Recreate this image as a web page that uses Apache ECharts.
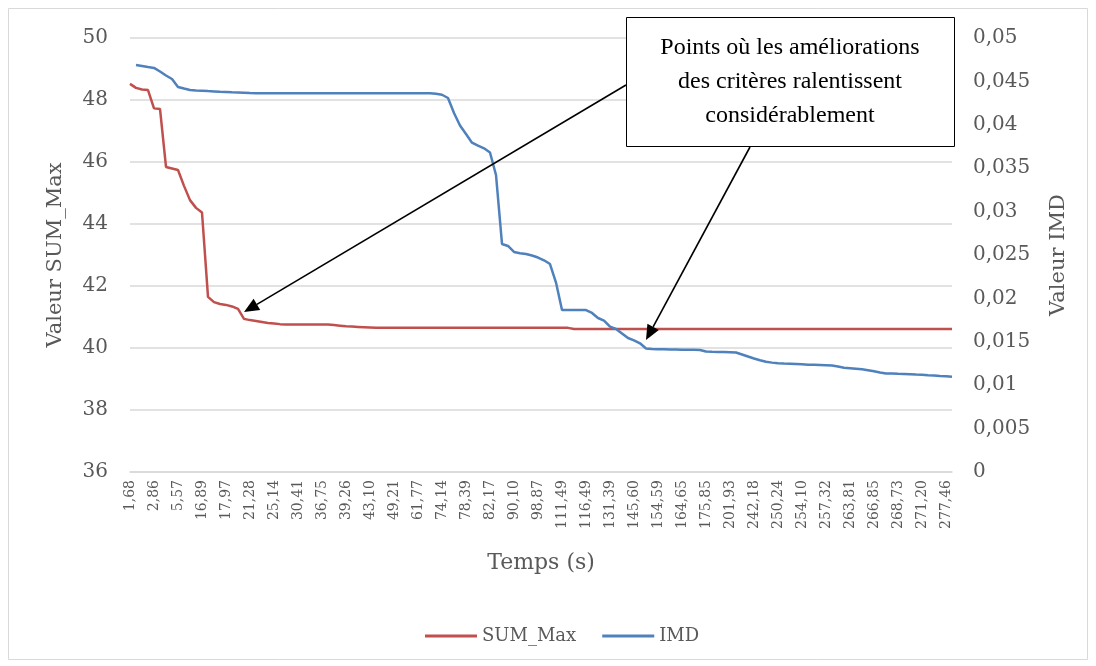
<!DOCTYPE html>
<html>
<head>
<meta charset="utf-8">
<script src="https://cdn.jsdelivr.net/npm/echarts@6/dist/echarts.min.js"></script>
<style>
html,body{margin:0;padding:0;background:#fff;}
#chart{width:1096px;height:666px;}
</style>
</head>
<body>
<div id="chart"></div>
<script>
// Tick labels shown on the time axis (every 4th sample)
var tickLabels = ['1,68','2,86','5,57','16,89','17,97','21,28','25,14','30,41','36,75','39,26','43,10','49,21','61,77','74,14','78,39','82,17','90,10','98,87','111,49','116,49','131,39','145,60','154,59','164,65','175,85','201,93','242,18','250,24','254,10','257,32','263,81','266,85','268,73','271,20','277,46'];

// SUM_Max (left axis)
var sumMax = [
48.52,48.39,48.34,48.32,47.73,47.71,45.84,45.79,45.74,45.23,
44.77,44.52,44.37,41.65,41.48,41.42,41.39,41.34,41.26,40.94,
40.90,40.87,40.84,40.81,40.79,40.77,40.76,40.76,40.76,40.76,
40.76,40.76,40.76,40.76,40.74,40.72,40.70,40.69,40.68,40.67,
40.66,40.65,40.65,40.65,40.65,40.65,40.65,40.65,40.65,40.65,
40.65,40.65,40.65,40.65,40.65,40.65,40.65,40.65,40.65,40.65,
40.65,40.65,40.65,40.65,40.65,40.65,40.65,40.65,40.65,40.65,
40.65,40.65,40.65,40.65,40.61,40.61,40.61,40.61,40.61,40.61,
40.61,40.61,40.61,40.61,40.61,40.61,40.61,40.61,40.61,40.61,
40.61,40.61,40.61,40.61,40.61,40.61,40.61,40.61,40.61,40.61,
40.61,40.61,40.61,40.61,40.61,40.61,40.61,40.61,40.61,40.61,
40.61,40.61,40.61,40.61,40.61,40.61,40.61,40.61,40.61,40.61,
40.61,40.61,40.61,40.61,40.61,40.61,40.61,40.61,40.61,40.61,
40.61,40.61,40.61,40.61,40.61,40.61,40.61,40.61
];

// IMD (right axis)
var imd = [
null,0.04689,0.04678,0.04666,0.04655,0.04614,0.04568,0.04528,0.04436,0.04418,
0.04401,0.04395,0.04392,0.04388,0.04385,0.04381,0.04378,0.04374,0.04371,0.04368,
0.04365,0.04363,0.04363,0.04363,0.04363,0.04363,0.04363,0.04363,0.04363,0.04363,
0.04363,0.04363,0.04363,0.04363,0.04363,0.04363,0.04363,0.04363,0.04363,0.04363,
0.04363,0.04363,0.04363,0.04363,0.04363,0.04363,0.04363,0.04363,0.04363,0.04363,
0.04363,0.04357,0.04346,0.04309,0.04136,0.03992,0.03894,0.03794,0.03759,0.03729,
0.03681,0.03422,0.02627,0.02604,0.02535,0.02520,0.02512,0.02494,0.02471,0.02439,
0.02396,0.02183,0.01866,0.01866,0.01866,0.01866,0.01866,0.01832,0.01774,0.01745,
0.01674,0.01648,0.01596,0.01544,0.01517,0.01483,0.01423,0.01417,0.01415,0.01414,
0.01411,0.01410,0.01409,0.01408,0.01407,0.01406,0.01388,0.01385,0.01383,0.01383,
0.01380,0.01377,0.01354,0.01331,0.01308,0.01287,0.01270,0.01260,0.01252,0.01249,
0.01247,0.01244,0.01241,0.01237,0.01235,0.01233,0.01230,0.01227,0.01215,0.01202,
0.01196,0.01190,0.01184,0.01173,0.01160,0.01146,0.01136,0.01134,0.01131,0.01129,
0.01126,0.01122,0.01119,0.01115,0.01112,0.01106,0.01103,0.01098
];

var LABEL_STEP = 4;
var categories = sumMax.map(function (v, i) {
  return (i % LABEL_STEP === 0 && tickLabels[i / LABEL_STEP]) ? tickLabels[i / LABEL_STEP] : '';
});

var txt = '#595959';
var grid = '#D9D9D9';
var axisFont = 'DejaVu Serif';

function arrowHead(x1, y1, x2, y2, len, half) {
  var dx = x2 - x1, dy = y2 - y1, d = Math.sqrt(dx * dx + dy * dy);
  var ux = dx / d, uy = dy / d;
  var bx = x2 - ux * len, by = y2 - uy * len;
  return [[x2, y2], [bx - uy * half, by + ux * half], [bx + uy * half, by - ux * half]];
}
var arrows = [[626, 85, 244, 312], [750, 147, 646, 340]];
var graphics = [
  { type: 'rect', shape: { x: 8.5, y: 8.5, width: 1079, height: 651 }, style: { fill: 'none', stroke: grid, lineWidth: 1 }, z: 0, silent: true }
];
arrows.forEach(function (a) {
  var h = arrowHead(a[0], a[1], a[2], a[3], 15, 6.5);
  var bx = (h[1][0] + h[2][0]) / 2, by = (h[1][1] + h[2][1]) / 2;
  graphics.push({ type: 'line', shape: { x1: a[0], y1: a[1], x2: bx, y2: by }, style: { stroke: '#000', lineWidth: 1.6 }, z: 100 });
  graphics.push({ type: 'polygon', shape: { points: h }, style: { fill: '#000' }, z: 100 });
});
graphics.push({ type: 'rect', shape: { x: 626.5, y: 17.5, width: 328, height: 129 }, style: { fill: '#fff', stroke: '#000', lineWidth: 1 }, z: 101 });
graphics.push({ type: 'text', x: 790, y: 82, z: 102,
  style: { text: 'Points où les améliorations\ndes critères ralentissent\nconsidérablement', fill: '#000',
    font: '24px "Liberation Serif"', align: 'center', verticalAlign: 'middle', lineHeight: 34 } });

var chart = echarts.init(document.getElementById('chart'));
chart.setOption({
  animation: false,
  backgroundColor: '#fff',
  grid: { left: 130, right: 144, top: 38, bottom: 194, containLabel: false },
  legend: {
    left: 420, top: 622,
    icon: 'rect',
    itemWidth: 52, itemHeight: 3, itemGap: 26,
    textStyle: { fontFamily: axisFont, fontSize: 18, color: txt },
    data: ['SUM_Max', 'IMD']
  },
  xAxis: {
    type: 'category', data: categories, boundaryGap: false,
    name: 'Temps (s)', nameLocation: 'middle', nameGap: 80,
    nameTextStyle: { fontFamily: axisFont, fontSize: 22, color: txt },
    axisLine: { lineStyle: { color: grid, width: 1.5 } },
    axisTick: { show: false },
    axisLabel: { interval: LABEL_STEP - 1, rotate: 90, margin: 8, fontFamily: axisFont, fontSize: 14, color: txt },
    splitLine: { show: false }
  },
  yAxis: [
    {
      type: 'value', min: 36, max: 50, interval: 2,
      name: 'Valeur SUM_Max', nameLocation: 'middle', nameGap: 64, nameRotate: 90,
      nameTextStyle: { fontFamily: axisFont, fontSize: 21, color: txt },
      axisLine: { show: false }, axisTick: { show: false },
      axisLabel: { margin: 22, fontFamily: axisFont, fontSize: 20, color: txt },
      splitLine: { lineStyle: { color: grid, width: 1.5 } }
    },
    {
      type: 'value', min: 0, max: 0.05, interval: 0.005,
      name: 'Valeur IMD', nameLocation: 'middle', nameGap: 96, nameRotate: 90,
      nameTextStyle: { fontFamily: axisFont, fontSize: 21, color: txt },
      axisLine: { show: false }, axisTick: { show: false },
      axisLabel: { margin: 21, fontFamily: axisFont, fontSize: 20, color: txt,
        formatter: function (v) { return String(+v.toFixed(4)).replace('.', ','); } },
      splitLine: { show: false }
    }
  ],
  series: [
    { name: 'SUM_Max', type: 'line', yAxisIndex: 0, data: sumMax, symbol: 'none',
      lineStyle: { color: '#C0504D', width: 2.5 }, itemStyle: { color: '#C0504D' } },
    { name: 'IMD', type: 'line', yAxisIndex: 1, data: imd, symbol: 'none',
      lineStyle: { color: '#4F81BD', width: 2.5 }, itemStyle: { color: '#4F81BD' } }
  ],
  graphic: graphics
});
</script>
</body>
</html>
